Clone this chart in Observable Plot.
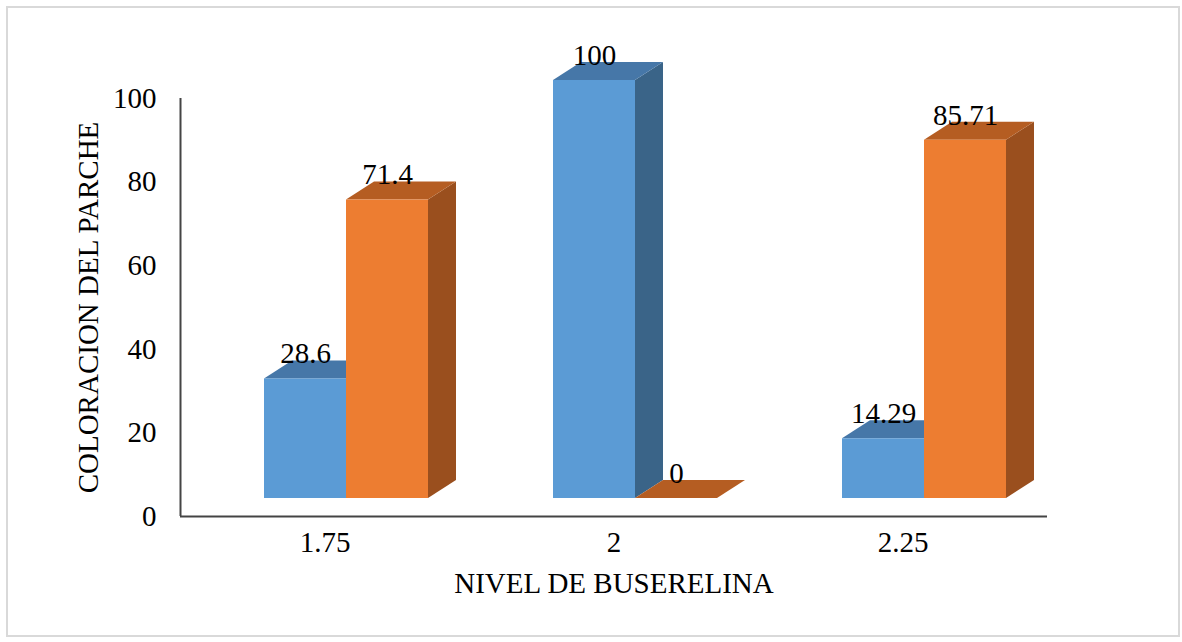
<!DOCTYPE html>
<html>
<head>
<meta charset="utf-8">
<script src="https://cdn.jsdelivr.net/npm/d3@7"></script>
<script src="https://cdn.jsdelivr.net/npm/@observablehq/plot@0.6"></script>
<style>
  html, body { margin: 0; padding: 0; background: #fff; }
  #wrap { position: relative; width: 1182px; height: 642px; overflow: hidden; }
  #border { position: absolute; left: 6px; top: 6px; width: 1170px; height: 627px; border: 2px solid #d9d9d9; pointer-events: none; }
</style>
</head>
<body>
<div id="wrap"><div id="border"></div></div>
<script>
// ---- data ----
const categories = ["1.75", "2", "2.25"];
const serieAzul = [28.6, 100, 14.29];
const serieNaranja = [71.4, 0, 85.71];
const yTicks = [0, 20, 40, 60, 80, 100];
const yTitle = "COLORACION DEL PARCHE";
const xTitle = "NIVEL DE BUSERELINA";

// ---- style constants ----
const W = 1182, H = 642;
const mL = 180, mR = 135, mT = 98, mB = 126;
const unitX = (W - mL - mR) / 3;            // px per category
const unitY = (H - mT - mB) / 100;          // px per value unit
const barW = 82 / unitX;                    // bar width in x units
const x0 = -60.5 / unitX;                   // left of first bar from band center
const D = 28 / unitX;                       // depth in x units
const DY = 18 / unitY;                      // depth in y units
const lift = -18;                           // front face lift (px)
const font = "'Liberation Serif', 'Times New Roman', serif";
const fs = 29;

const colors = [
  {front: "#5B9BD5", top: "#4677A8", side: "#3A6488"},
  {front: "#ED7D31", top: "#B55D22", side: "#9A4F1E"}
];

const series = [serieAzul, serieNaranja];
const bars = [];
series.forEach((vals, s) => vals.forEach((v, i) => {
  const xl = i + x0 + s * barW;
  bars.push({id: `${s}-${i}`, s, i, v, xl, xr: xl + barW});
}));

const marks = [];
[0, 1].forEach(s => {
  const bs = bars.filter(b => b.s === s);
  const side = bs.flatMap(b => [
    {id: b.id, x: b.xr, y1: 0, y2: b.v},
    {id: b.id, x: b.xr + D, y1: DY, y2: b.v + DY}
  ]);
  const top = bs.flatMap(b => [
    {id: b.id, x: b.xl, y1: b.v, y2: b.v},
    {id: b.id, x: b.xl + D, y1: b.v, y2: b.v + DY},
    {id: b.id, x: b.xr, y1: b.v, y2: b.v + DY},
    {id: b.id, x: b.xr + D, y1: b.v + DY, y2: b.v + DY}
  ]);
  marks.push(Plot.areaY(side, {x: "x", y1: "y1", y2: "y2", z: "id", fill: colors[s].side, dy: lift, curve: "linear"}));
  marks.push(Plot.areaY(top, {x: "x", y1: "y1", y2: "y2", z: "id", fill: colors[s].top, dy: lift, curve: "linear"}));
  marks.push(Plot.rect(bs, {x1: "xl", x2: "xr", y1: 0, y2: "v", fill: colors[s].front, dy: lift}));
});

// value labels
marks.push(Plot.text(bars, {
  x: b => (b.xl + b.xr) / 2, y: "v", text: b => String(b.v),
  dy: -43, fontSize: fs, fill: "#000", textAnchor: "middle"
}));

// axes lines
marks.push(Plot.ruleY([0], {stroke: "#444", strokeWidth: 2}));
marks.push(Plot.ruleX([-0.5], {y1: 0, y2: 100, stroke: "#444", strokeWidth: 2}));

// y tick labels
marks.push(Plot.text(yTicks, {frameAnchor: "left", y: d => d, text: d => String(d), textAnchor: "end", dx: -24, fontSize: fs, fill: "#000"}));
// x tick labels
marks.push(Plot.text(categories, {x: (d, i) => i, frameAnchor: "bottom", text: d => d, dy: 35, fontSize: fs, fill: "#000"}));
// titles
marks.push(Plot.text([yTitle], {frameAnchor: "left", text: d => d, rotate: -90, dx: -92, textAnchor: "middle", fontSize: fs, fill: "#000"}));
marks.push(Plot.text([xTitle], {frameAnchor: "bottom", text: d => d, dy: 76, textAnchor: "middle", fontSize: fs, fill: "#000"}));

const chart = Plot.plot({
  width: W, height: H,
  marginLeft: mL, marginRight: mR, marginTop: mT, marginBottom: mB,
  x: {domain: [-0.5, 2.5], axis: null},
  y: {domain: [0, 100], axis: null},
  style: {fontFamily: font, fontSize: fs + "px", background: "transparent", color: "#000"},
  marks
});
document.getElementById("wrap").prepend(chart);
</script>
</body>
</html>
